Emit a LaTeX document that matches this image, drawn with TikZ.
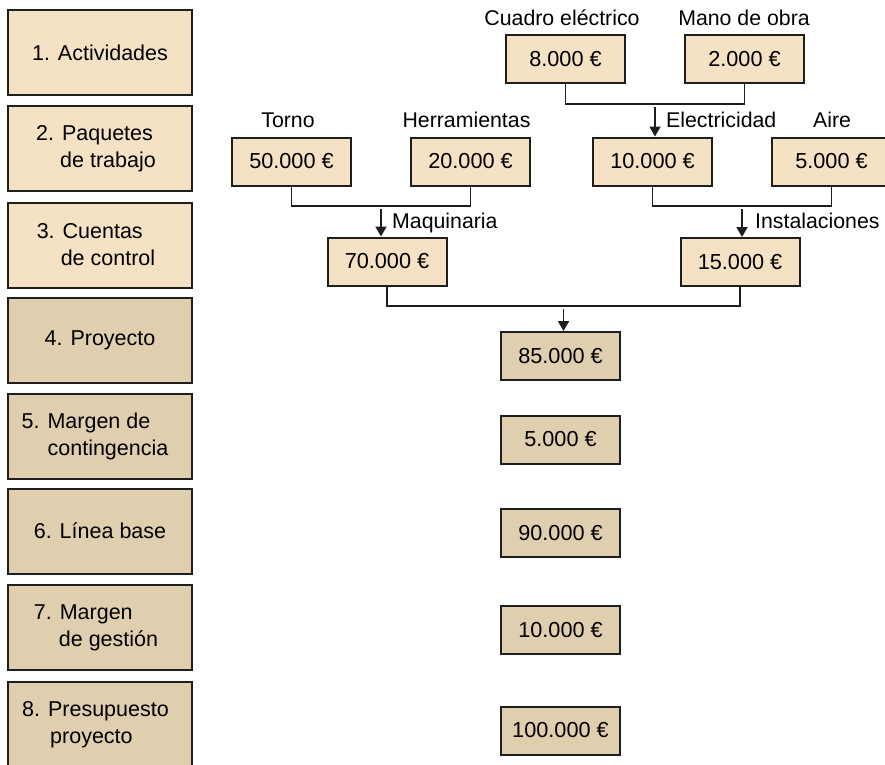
\documentclass[tikz,border=0pt]{standalone}
\usepackage{fontspec}
\setmainfont{Liberation Sans}
\usetikzlibrary{arrows.meta}
\definecolor{paleboxfill}{RGB}{245,225,195}
\definecolor{darkboxfill}{RGB}{224,207,175}
\definecolor{ink}{RGB}{30,30,30}

\begin{document}
\begin{tikzpicture}[x=1pt,y=-1pt,
  box/.style={draw=ink,line width=2pt,minimum width=119pt,minimum height=48pt,inner sep=0pt,font=\fontsize{21.7}{26}\selectfont},
  phase/.style={draw=ink,line width=2pt,minimum width=184pt,minimum height=85pt,inner sep=0pt,align=left,font=\fontsize{21.5}{27}\selectfont},
  early/.style={phase,fill=paleboxfill},
  late/.style={phase,fill=darkboxfill},
  cost/.style={box,fill=paleboxfill},
  costlate/.style={box,fill=darkboxfill},
  tag/.style={font=\fontsize{21.3}{25}\selectfont,inner sep=0pt,anchor=base},
  link/.style={draw=ink,line width=1.8pt},
  feed/.style={link,-{Triangle[length=10pt,width=11pt]}},
]
\useasboundingbox (0,0) rectangle (885,764);
\clip (0,0) rectangle (885,764);

% phases of the budget, left column
\node[early] (s1) at (100,52.5)  {1. Actividades};
\node[early] (s2) at (100,148.5) {2. Paquetes\\\hspace*{24pt}de trabajo\hspace*{8pt}};
\node[early] (s3) at (100,245)   {3. Cuentas\\\hspace*{24pt}de control\hspace*{8pt}};
\node[late]  (s4) at (100,340.5) {4. Proyecto};
\node[late]  (s5) at (100,436)   {5. Margen de\\\hspace*{26pt}contingencia\hspace*{10pt}};
\node[late]  (s6) at (100,531)   {6. Línea base};
\node[late]  (s7) at (100,627.5) {7. Margen\\\hspace*{25pt}de gestión\hspace*{8pt}};
\node[late]  (s8) at (100,724.5) {8. Presupuesto\hspace*{9pt}\\\hspace*{28pt}proyecto};

% activities
\node[cost] (c8) at (565.5,59) {8.000 €};
\node[cost] (c2) at (744.5,59) {2.000 €};
\node[tag] (lc8) at (562,25) {Cuadro eléctrico};
\node[tag] (lc2) at (744,25) {Mano de obra};

% work packages
\node[cost] (t50) at (291.5,161.5) {50.000 €};
\node[cost] (h20) at (470.5,161.5) {20.000 €};
\node[cost] (e10) at (652.5,161.5) {10.000 €};
\node[cost] (a5)  at (831.5,161.5) {5.000 €};
\node[tag] (lt50) at (288,127) {Torno};
\node[tag] (lh20) at (466.5,127) {Herramientas};
\node[tag,anchor=base west] (le10) at (666,127) {Electricidad};
\node[tag] (la5) at (832,127) {Aire};

% control accounts
\node[cost] (m70) at (387,261.5) {70.000 €};
\node[cost] (i15) at (740,262) {15.000 €};
\node[tag,anchor=base west] (lm70) at (392,228) {Maquinaria};
\node[tag,anchor=base west] (li15) at (755,228) {Instalaciones};

% project and reserves
\node[costlate] (p85)  at (560.5,356)   {85.000 €};
\node[costlate] (r5)   at (560.5,439.5) {5.000 €};
\node[costlate] (b90)  at (560.5,533)   {90.000 €};
\node[costlate] (g10)  at (560.5,630)   {10.000 €};
\node[costlate] (t100) at (560.5,730.5) {100.000 €};

% roll-up brackets
\coordinate (jA) at (655,104);
\draw[link] (c8.south) |- (jA) -| (c2.south);
\draw[feed] ([yshift=-3pt]jA) -- (jA |- e10.north);

\coordinate (jB) at (381,206);
\draw[link] (t50.south) |- (jB) -| (h20.south);
\draw[feed] ([yshift=-3pt]jB) -- (jB |- m70.north);

\coordinate (jC) at (742,206);
\draw[link] (e10.south) |- (jC) -| (a5.south);
\draw[feed] ([yshift=-3pt]jC) -- (jC |- i15.north);

\coordinate (jD) at (563.5,306);
\draw[link] (m70.south) |- (jD) -| (i15.south);
\draw[feed] ([yshift=-3pt]jD) -- (jD |- p85.north);
\end{tikzpicture}
\end{document}
